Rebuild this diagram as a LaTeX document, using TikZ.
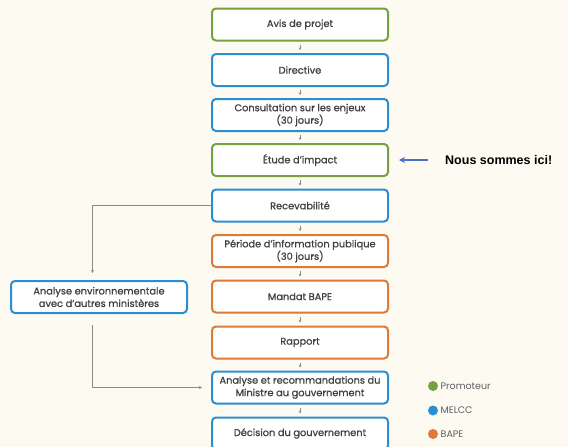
\documentclass[tikz,border=0pt]{standalone}
\usepackage{fontspec}
\setmainfont{Poppins}
\newfontfamily\medfont{Poppins}[FakeBold=0.9]
\newfontfamily\arialfont{Liberation Sans}
\usetikzlibrary{arrows.meta}
\definecolor{bgc}{HTML}{FCFAF1}
\definecolor{gr}{HTML}{76A13F}
\definecolor{bl}{HTML}{2B8ED0}
\definecolor{orc}{HTML}{DD7A3A}
\definecolor{txt}{HTML}{404040}
\definecolor{conn}{HTML}{8A8A8A}
\definecolor{herearrow}{HTML}{4A72C2}
\tikzset{
  x=1pt,y=-1pt,
  box/.style={draw,fill=white,rounded corners=4pt,line width=2pt,minimum width=176pt,minimum height=32pt,inner sep=1pt,align=center,font=\medfont\fontsize{9.8}{12.5}\selectfont,text=txt},
  gbox/.style={box,draw=gr},
  bbox/.style={box,draw=bl},
  obox/.style={box,draw=orc},
  small/.style={draw=conn,line width=0.5pt,-{Stealth[length=2.5pt,width=2.5pt]},shorten <=3pt,shorten >=3pt},
  link/.style={draw=conn,line width=1.1pt,-{Stealth[length=3pt,width=3pt]}},
  legtext/.style={anchor=west,inner sep=0pt,font=\fontsize{9.5}{11}\selectfont,text=txt!85}
}
\begin{document}
\begin{tikzpicture}
\fill[bgc] (0,0) rectangle (568,447);
\useasboundingbox (0,0) rectangle (568,447);
\begin{scope}
\clip (0,0) rectangle (568,447);
\node[gbox] (b1) at (300,24.5) {Avis de projet};
\node[bbox] (b2) at (300,70) {Directive};
\node[bbox] (b3) at (300,115) {Consultation sur les enjeux\\(30 jours)};
\node[gbox] (b4) at (300,160) {Étude d’impact};
\node[bbox] (b5) at (300,205.5) {Recevabilité};
\node[obox] (b6) at (300,251) {Période d’information publique\\(30 jours)};
\node[obox] (b7) at (300,296.5) {Mandat BAPE};
\node[obox] (b8) at (300,342.5) {Rapport};
\node[bbox] (b9) at (300,387.5) {Analyse et recommandations du\\Ministre au gouvernement};
\node[bbox] (b10) at (300,433.5) {Décision du gouvernement};
\node[bbox] (lb) at (99,297) {Analyse environnementale\\avec d’autres ministères};
\end{scope}
\foreach \a/\b in {b1/b2,b2/b3,b3/b4,b4/b5,b5/b6,b6/b7,b7/b8,b8/b9,b9/b10}
  \draw[small] (\a.south) -- (\b.north);
\coordinate (c1) at (92.5,205.5);
\coordinate (c2) at (92.5,273);
\coordinate (c3) at (92.5,325);
\coordinate (c4) at (92.5,387.5);
\coordinate (c5) at (202,387.5);
\draw[link] (b5.west) -- (c1) -- (c2);
\draw[link] (c3) -- (c4) -- (c5);
\node[anchor=west,inner sep=0pt,font=\arialfont\bfseries\fontsize{12.5}{14}\selectfont] (here) at (445,160) {Nous sommes ici!};
\coordinate (ha) at (428,160);
\coordinate (hb) at (399,160);
\draw[herearrow,line width=2pt,-{Stealth[length=6pt,width=6pt]}] (ha) -- (hb);
\fill[gr] (433,386) circle (5);
\fill[bl] (433,410.5) circle (5);
\fill[orc] (433,434) circle (5);
\node[legtext] (l1) at (440.5,386) {Promoteur};
\node[legtext] (l2) at (440.5,410.5) {MELCC};
\node[legtext] (l3) at (440.5,434) {BAPE};
\end{tikzpicture}
\end{document}
